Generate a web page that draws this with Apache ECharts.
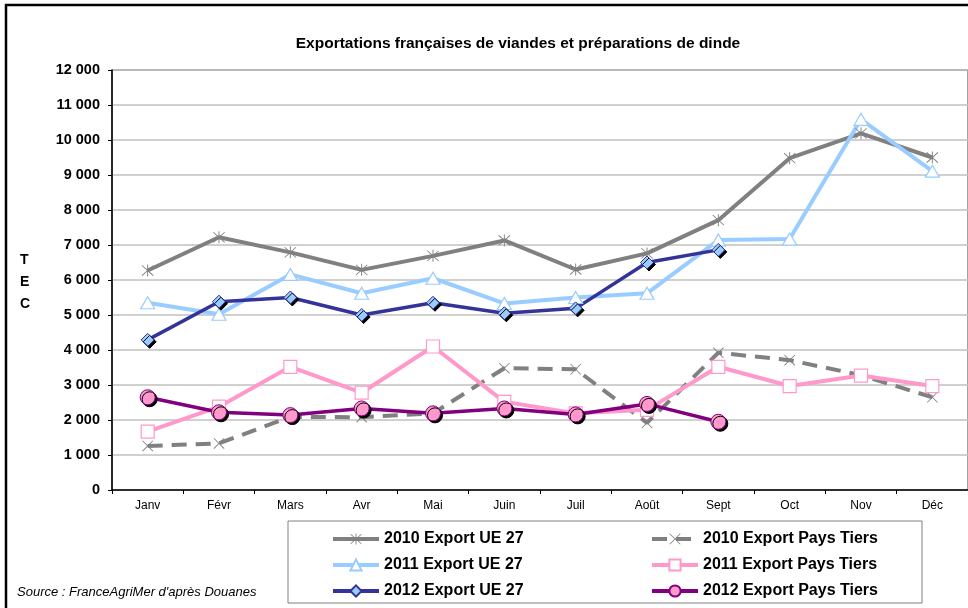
<!DOCTYPE html>
<html>
<head>
<meta charset="utf-8">
<script src="https://cdn.jsdelivr.net/npm/echarts@6/dist/echarts.min.js"></script>
<style>
  html,body{margin:0;padding:0;background:#fff;}
  #chart{width:968px;height:608px;}
</style>
</head>
<body>
<div id="chart"></div>
<script>
// données (TEC)
const months = ['Janv','Févr','Mars','Avr','Mai','Juin','Juil','Août','Sept','Oct','Nov','Déc']
const ue2010 = [6270,7220,6790,6290,6690,7130,6300,6760,7710,9480,10190,9500]
const pt2010 = [1260,1330,2090,2080,2190,3480,3450,1920,3920,3710,3280,2650]
const ue2011 = [5350,5020,6160,5620,6050,5330,5500,5620,7140,7170,10590,9110]
const pt2011 = [1670,2380,3520,2780,4100,2520,2190,2290,3520,2970,3270,2970]
const ue2012 = [4290,5380,5500,5000,5350,5050,5190,6500,6860]
const pt2012 = [2650,2220,2140,2330,2190,2330,2160,2460,1950]
const yTicks = [0,1000,2000,3000,4000,5000,6000,7000,8000,9000,10000,11000,12000]

const FONT = '"Liberation Sans", Arial, sans-serif'
// marqueurs en forme d'étoile / de croix
const starPath = 'path://M1 2L2 1L19 18L18 19Z M18 1L19 2L2 19L1 18Z M9.3 0H10.7V20H9.3Z'
const crossPath = 'path://M1 2L2 1L19 18L18 19Z M18 1L19 2L2 19L1 18Z'

const fmt = v => String(v).replace(/\B(?=(\d{3})+(?!\d))/g, ' ')

const chart = echarts.init(document.getElementById('chart'), null, {renderer:'canvas'})

const legendText = {fontFamily:FONT, fontWeight:'bold', fontSize:16, color:'#000'}

const option = {
  animation:false,
  backgroundColor:'#fff',
  title:{
    text:'Exportations françaises de viandes et préparations de dinde',
    left:513, top:31, textAlign:'center',
    textStyle:{fontFamily:FONT, fontWeight:'bold', fontSize:15.5, color:'#000'}
  },
  grid:{left:112, top:70, width:857, height:420, show:true, borderColor:'#404040', borderWidth:1},
  legend:[
    {orient:'vertical', left:326, top:526, itemWidth:46, itemHeight:14, itemGap:10,
      lineStyle:{width:4},
      data:['2010 Export UE 27','2011 Export UE 27','2012 Export UE 27'], textStyle:legendText},
    {orient:'vertical', left:645, top:526, itemWidth:46, itemHeight:14, itemGap:10,
      lineStyle:{width:4},
      data:['2010 Export Pays Tiers','2011 Export Pays Tiers','2012 Export Pays Tiers'], textStyle:legendText}
  ],
  xAxis:{
    type:'category', data:months, boundaryGap:true,
    axisLine:{lineStyle:{color:'#000', width:1.5}},
    axisTick:{show:true, length:4, lineStyle:{color:'#000'}},
    axisLabel:{fontFamily:FONT, fontSize:12, color:'#000', margin:10}
  },
  yAxis:{
    type:'value', min:yTicks[0], max:yTicks[yTicks.length-1], interval:1000,
    axisLine:{show:true, lineStyle:{color:'#000', width:1.5}},
    axisTick:{show:true, length:4, lineStyle:{color:'#000'}},
    axisLabel:{fontFamily:FONT, fontSize:14.5, fontWeight:'bold', color:'#000', margin:12, formatter:fmt},
    splitLine:{lineStyle:{color:'#c0c0c0', width:1.5}}
  },
  graphic:[
    // cadre extérieur
    {type:'rect', shape:{x:6, y:5, width:1100, height:800}, style:{fill:null, stroke:'#000', lineWidth:2.5}, z:-1},
    // cadre de légende
    {type:'rect', shape:{x:288, y:521, width:634, height:82}, style:{fill:null, stroke:'#808080', lineWidth:1}},
    {type:'text', left:20, top:249, style:{text:'T\nE\nC', font:'bold 14px '+FONT, fill:'#000', lineHeight:22}},
    {type:'text', left:17, top:586, style:{text:"Source : FranceAgriMer d'après Douanes", font:'italic 13px '+FONT, fill:'#000'}}
  ],
  series:[
    {name:'2010 Export UE 27', type:'line', data:ue2010, symbol:starPath, symbolSize:12,
      itemStyle:{color:'#808080'}, lineStyle:{color:'#808080', width:4}},
    {name:'2010 Export Pays Tiers', type:'line', data:pt2010, symbol:crossPath, symbolSize:11,
      itemStyle:{color:'#808080'}, lineStyle:{color:'#808080', width:4, type:[15,9]}},
    {name:'2011 Export UE 27', type:'line', data:ue2011, symbol:'triangle', symbolSize:[14,12],
      itemStyle:{color:'#fff', borderColor:'#99ccff', borderWidth:1.2}, lineStyle:{color:'#99ccff', width:4}},
    {name:'2011 Export Pays Tiers', type:'line', data:pt2011, symbol:'rect', symbolSize:13,
      itemStyle:{color:'#fff', borderColor:'#ff99cc', borderWidth:1.2}, lineStyle:{color:'#ff99cc', width:4}},
    {name:'2012 Export UE 27', type:'line', data:ue2012, symbol:'diamond', symbolSize:13,
      itemStyle:{color:'#99ccff', borderColor:'#333399', borderWidth:1, shadowColor:'#000', shadowOffsetX:2, shadowOffsetY:2, shadowBlur:0},
      lineStyle:{color:'#333399', width:3.5}},
    {name:'2012 Export Pays Tiers', type:'line', data:pt2012, symbol:'circle', symbolSize:15,
      itemStyle:{color:'#ff99cc', borderColor:'#800080', borderWidth:1, shadowColor:'#000', shadowOffsetX:2, shadowOffsetY:2, shadowBlur:0},
      lineStyle:{color:'#800080', width:3.5}}
  ]
}

chart.setOption(option)
</script>
</body>
</html>
